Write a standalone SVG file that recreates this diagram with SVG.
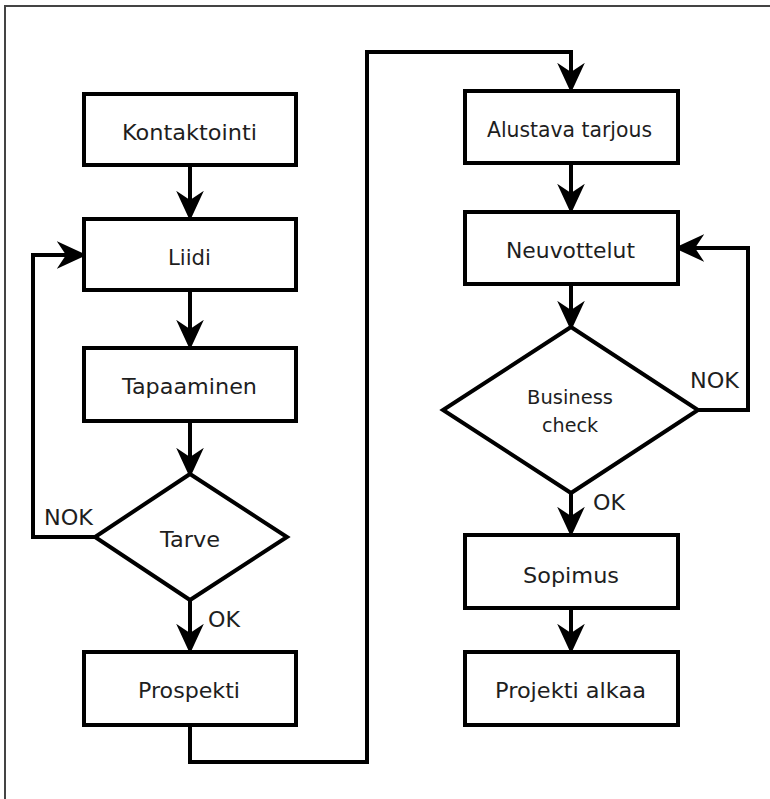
<svg xmlns="http://www.w3.org/2000/svg" width="770" height="799" viewBox="0 0 770 799">
  <style>
    .box { fill: #ffffff; stroke: #000000; stroke-width: 4; }
    .conn { fill: none; stroke: #000000; stroke-width: 4; stroke-linejoin: miter; }
    .lbl { font-family: "DejaVu Sans", "Liberation Sans", sans-serif; font-size: 22px; fill: #1e1e1e; text-anchor: middle; }
    .small { font-size: 19px; }
    .edge { font-family: "DejaVu Sans", "Liberation Sans", sans-serif; font-size: 22px; fill: #1e1e1e; }
  </style>
  <defs>
    <marker id="arrow" markerUnits="userSpaceOnUse" markerWidth="30" markerHeight="30" viewBox="0 -13 26 26" refX="8" refY="0" orient="auto">
      <path d="M0,-12 L8,0 L0,12 L26,0 Z" fill="#000000"/>
    </marker>
  </defs>
  <rect x="0" y="0" width="770" height="799" fill="#ffffff"/>
  <g id="frame">
    <path d="M5,799 V6 H770" fill="none" stroke="#444444" stroke-width="2"/>
  </g>

  <g id="connectors">
    <path class="conn" d="M190,167 V200" marker-end="url(#arrow)"/>
    <path class="conn" d="M190,292 V329" marker-end="url(#arrow)"/>
    <path class="conn" d="M190,423 V457" marker-end="url(#arrow)"/>
    <path class="conn" d="M190,600 V633" marker-end="url(#arrow)"/>
    <path class="conn" d="M190,727 V762 H367 V52 H571 V72" marker-end="url(#arrow)"/>
    <path class="conn" d="M95,537 H33 V255 H66" marker-end="url(#arrow)"/>
    <path class="conn" d="M571,165 V193" marker-end="url(#arrow)"/>
    <path class="conn" d="M571,286 V310" marker-end="url(#arrow)"/>
    <path class="conn" d="M698,410 H748 V248 H695" marker-end="url(#arrow)"/>
    <path class="conn" d="M571,493 V516" marker-end="url(#arrow)"/>
    <path class="conn" d="M571,610 V633" marker-end="url(#arrow)"/>
    <text class="edge" x="44" y="525" textLength="49" lengthAdjust="spacingAndGlyphs">NOK</text>
    <text class="edge" x="208" y="627" textLength="32" lengthAdjust="spacingAndGlyphs">OK</text>
    <text class="edge" x="690" y="388" textLength="49" lengthAdjust="spacingAndGlyphs">NOK</text>
    <text class="edge" x="593" y="510" textLength="32" lengthAdjust="spacingAndGlyphs">OK</text>
  </g>

  <g id="kontaktointi">
    <rect class="box" x="84" y="94" width="212" height="71"/>
    <text class="lbl" x="189.5" y="140" textLength="135" lengthAdjust="spacingAndGlyphs">Kontaktointi</text>
  </g>
  <g id="liidi">
    <rect class="box" x="84" y="219" width="212" height="71"/>
    <text class="lbl" x="189.5" y="265" textLength="43" lengthAdjust="spacingAndGlyphs">Liidi</text>
  </g>
  <g id="tapaaminen">
    <rect class="box" x="84" y="348" width="212" height="73"/>
    <text class="lbl" x="189.5" y="394" textLength="135" lengthAdjust="spacingAndGlyphs">Tapaaminen</text>
  </g>
  <g id="tarve">
    <polygon class="box" points="190,474 287,537 190,600 95,537"/>
    <text class="lbl" x="190" y="547" textLength="60" lengthAdjust="spacingAndGlyphs">Tarve</text>
  </g>
  <g id="prospekti">
    <rect class="box" x="84" y="652" width="212" height="73"/>
    <text class="lbl" x="189" y="698" textLength="102" lengthAdjust="spacingAndGlyphs">Prospekti</text>
  </g>

  <g id="alustava-tarjous">
    <rect class="box" x="465" y="91" width="213" height="72"/>
    <text class="lbl" x="569.5" y="137" textLength="165" lengthAdjust="spacingAndGlyphs">Alustava tarjous</text>
  </g>
  <g id="neuvottelut">
    <rect class="box" x="465" y="212" width="213" height="72"/>
    <text class="lbl" x="570.5" y="258" textLength="129" lengthAdjust="spacingAndGlyphs">Neuvottelut</text>
  </g>
  <g id="business-check">
    <polygon class="box" points="571,327 698,410 571,493 443,410"/>
    <text class="lbl small" x="570" y="404" textLength="86" lengthAdjust="spacingAndGlyphs">Business</text>
    <text class="lbl small" x="570" y="432" textLength="56" lengthAdjust="spacingAndGlyphs">check</text>
  </g>
  <g id="sopimus">
    <rect class="box" x="465" y="535" width="213" height="73"/>
    <text class="lbl" x="571" y="583" textLength="96" lengthAdjust="spacingAndGlyphs">Sopimus</text>
  </g>
  <g id="projekti-alkaa">
    <rect class="box" x="465" y="652" width="213" height="73"/>
    <text class="lbl" x="570.5" y="698" textLength="151" lengthAdjust="spacingAndGlyphs">Projekti alkaa</text>
  </g>
</svg>
